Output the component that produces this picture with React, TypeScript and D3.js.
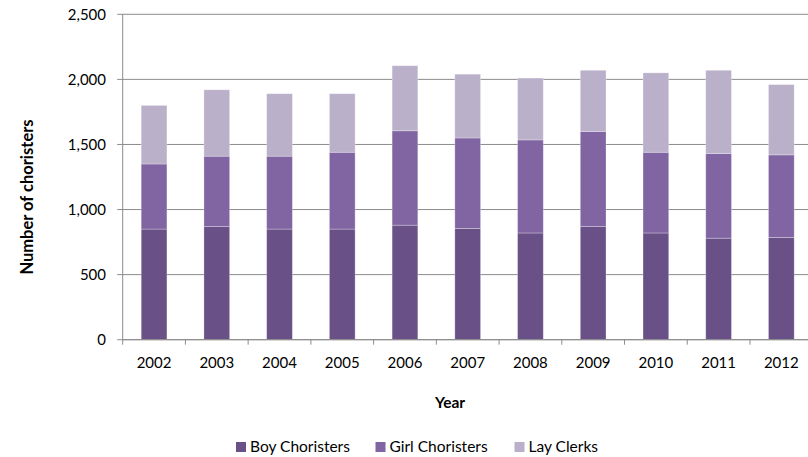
import React from 'react'
import * as d3 from 'd3'

const years = ['2002', '2003', '2004', '2005', '2006', '2007', '2008', '2009', '2010', '2011', '2012']
const boyChoristers = [850, 870, 850, 850, 880, 855, 820, 870, 820, 780, 785]
const girlChoristers = [500, 540, 560, 590, 725, 695, 715, 730, 620, 650, 635]
const layClerks = [450, 510, 480, 450, 500, 490, 475, 470, 610, 640, 540]
const yTicks = [0, 500, 1000, 1500, 2000, 2500]

const seriesNames = ['Boy Choristers', 'Girl Choristers', 'Lay Clerks']
const seriesColors = ['#695187', '#8165a2', '#bab0ca']

const FONT = 'Lato, "Open Sans", sans-serif'

const App: React.FC = () => {
  const width = 808
  const height = 457
  const left = 122.7
  const plotW = 690
  const top = 14.3
  const bottom = 339.7

  const x = d3.scaleBand<string>()
    .domain(years)
    .range([left, left + plotW])
    .paddingInner(0.59)
    .paddingOuter(0.295)

  const y = d3.scaleLinear().domain([0, 2500]).range([bottom, top])

  const rows = years.map((yr, i) => ({
    year: yr,
    boy: boyChoristers[i],
    girl: girlChoristers[i],
    lay: layClerks[i]
  }))
  const stack = d3.stack<any>().keys(['boy', 'girl', 'lay'])(rows)

  // tick marks sit between categories
  const step = x.step()
  const tickXs = years.slice(1).map(yr => (x(yr) as number) - (step - x.bandwidth()) / 2)
  tickXs.unshift(left)
  tickXs.push(left + plotW)

  return (
    <svg
      width={width}
      height={height}
      style={{ position: 'absolute', left: 0, top: 0, background: '#fff' }}
      fontFamily={FONT}
    >
      {/* gridlines */}
      {yTicks.map(t => (
        <line key={t} x1={left - 5.5} x2={left + plotW} y1={y(t)} y2={y(t)}
          stroke="#8c8c8c" strokeWidth={1} />
      ))}
      {/* bars */}
      {stack.map((s, si) => (
        <g key={si} fill={seriesColors[si]}>
          {s.map((d, i) => (
            <rect
              key={i}
              x={x(years[i])}
              width={x.bandwidth()}
              y={y(d[1])}
              height={y(d[0]) - y(d[1])}
              stroke="#ffffff"
              strokeOpacity={0.35}
              strokeWidth={0.8}
            />
          ))}
        </g>
      ))}
      {/* axes */}
      <line x1={left} x2={left} y1={top} y2={bottom} stroke="#8c8c8c" />
      <line x1={left} x2={left + plotW} y1={bottom} y2={bottom} stroke="#8c8c8c" />
      {tickXs.map((tx, i) => (
        <line key={i} x1={tx} x2={tx} y1={bottom} y2={bottom + 5} stroke="#8c8c8c" />
      ))}
      {yTicks.map(t => (
        <text key={t} x={106} y={y(t)} dy="0.35em" textAnchor="end" fontSize={15} fill="#000">
          {d3.format(',')(t)}
        </text>
      ))}
      {years.map(yr => (
        <text key={yr} x={(x(yr) as number) + x.bandwidth() / 2} y={363} dy="0.35em"
          textAnchor="middle" fontSize={15} fill="#000">
          {yr}
        </text>
      ))}
      <text x={450} y={403} dy="0.35em" textAnchor="middle" fontSize={15.5} fontWeight="bold">
        Year
      </text>
      <text transform={`translate(27,197) rotate(-90)`} dy="0.35em" textAnchor="middle"
        fontSize={16.5} fontWeight="bold">
        Number of choristers
      </text>
      {/* legend */}
      {seriesNames.map((name, i) => {
        const lx = [236, 375.5, 514.5][i]
        return (
          <g key={name}>
            <rect x={lx} y={442} width={10} height={10} fill={seriesColors[i]} />
            <text x={lx + 14} y={447} dy="0.35em" fontSize={15.5}>{name}</text>
          </g>
        )
      })}
    </svg>
  )
}

export default App
